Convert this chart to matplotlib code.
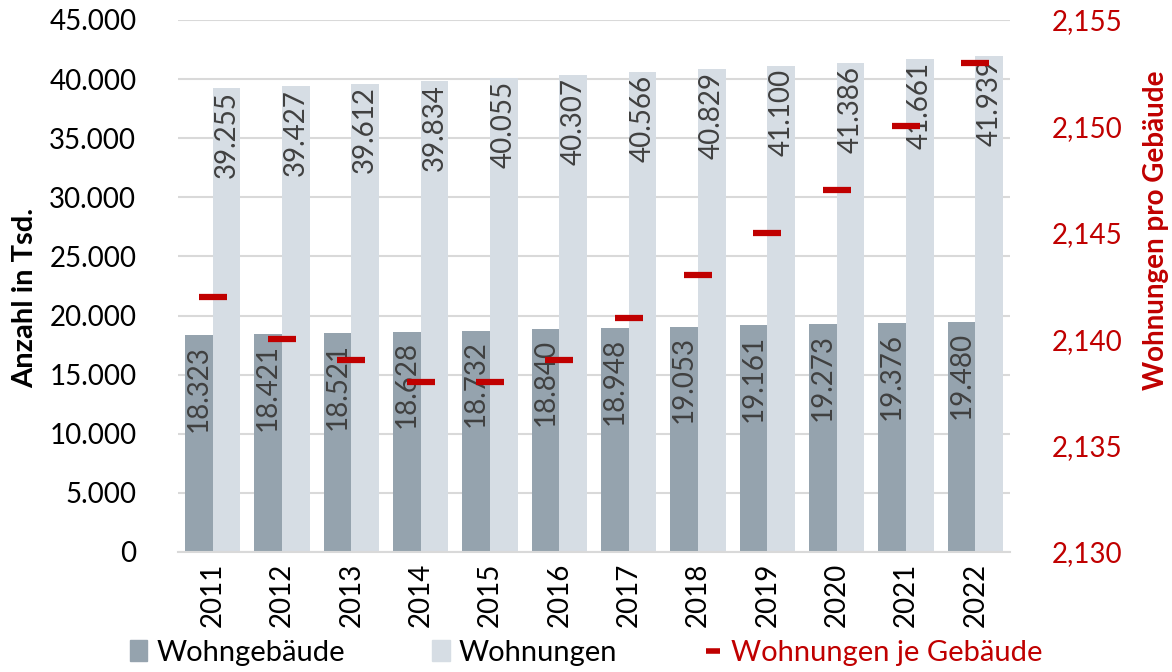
import matplotlib
matplotlib.use("Agg")
import matplotlib.pyplot as plt
from matplotlib.ticker import FuncFormatter, MultipleLocator
from matplotlib.patches import Patch
from matplotlib.lines import Line2D
import numpy as np

plt.rcParams['font.family'] = ['Lato', 'DejaVu Sans']

years = ["2011", "2012", "2013", "2014", "2015", "2016", "2017", "2018", "2019", "2020", "2021", "2022"]
wohngebaeude = [18323, 18421, 18521, 18628, 18732, 18840, 18948, 19053, 19161, 19273, 19376, 19480]
wohnungen = [39255, 39427, 39612, 39834, 40055, 40307, 40566, 40829, 41100, 41386, 41661, 41939]
je_gebaeude = [2.142, 2.140, 2.139, 2.138, 2.138, 2.139, 2.141, 2.143, 2.145, 2.147, 2.150, 2.153]

c_dark = "#95A3AE"
c_light = "#D6DDE4"
c_red = "#C00000"
c_text = "#404040"

fs = 20

fig = plt.figure(figsize=(11.72, 6.72), dpi=100)
ax = fig.add_axes([178/1172, 1-552/672, (1010-178)/1172, (552-20)/672])
ax2 = ax.twinx()

x = np.arange(len(years))
w = 0.4
ax.bar(x - w/2, wohngebaeude, width=w, color=c_dark, zorder=2)
ax.bar(x + w/2, wohnungen, width=w, color=c_light, zorder=2)

def de_fmt(v):
    return f"{int(round(v)):,}".replace(",", ".")

for xi, v in zip(x - w/2, wohngebaeude):
    ax.annotate(de_fmt(v), (xi, v), xytext=(0, -7), textcoords="offset points",
                rotation=90, ha="center", va="top", fontsize=fs, color=c_text, zorder=3)
for xi, v in zip(x + w/2, wohnungen):
    ax.annotate(de_fmt(v), (xi, v), xytext=(0, -2), textcoords="offset points",
                rotation=90, ha="center", va="top", fontsize=fs, color=c_text, zorder=3)

ax.set_xlim(-0.5, len(years) - 0.5)
ax.set_ylim(0, 45000)
ax.yaxis.set_major_locator(MultipleLocator(5000))
ax.yaxis.set_major_formatter(FuncFormatter(lambda v, p: de_fmt(v)))
ax.grid(axis="y", color="#D9D9D9", linewidth=1.5, zorder=0)
ax.set_axisbelow(True)
ax.set_xticks(x)
ax.set_xticklabels(years, rotation=90, fontsize=fs)
ax.tick_params(axis="both", length=0, labelsize=fs, colors="black")
ax.tick_params(axis="y", pad=30)
ax.tick_params(axis="x", pad=8)
for s in ax.spines.values():
    s.set_visible(False)
ax.spines["bottom"].set_visible(True)
ax.spines["bottom"].set_color("#D9D9D9")
ax.spines["bottom"].set_linewidth(1.5)
ax.set_ylabel("Anzahl in Tsd.", fontsize=21, fontweight="bold")
ax.yaxis.set_label_coords(-0.168, 0.477)

ax2.plot(x, je_gebaeude, linestyle="none", marker="_", markersize=19.5,
         markeredgewidth=4.5, color=c_red, zorder=4)
ax2.set_ylim(2.130, 2.155)
ax2.yaxis.set_major_locator(MultipleLocator(0.005))
ax2.yaxis.set_major_formatter(FuncFormatter(lambda v, p: f"{v:.3f}".replace(".", ",")))
ax2.tick_params(axis="y", length=0, labelsize=fs, colors=c_red, pad=30)
for s in ax2.spines.values():
    s.set_visible(False)
ax2.set_ylabel("Wohnungen pro Gebäude", fontsize=20, fontweight="bold", color=c_red)
ax2.yaxis.set_label_coords(1.16, 0.605)

handles = [Patch(color=c_dark), Patch(color=c_light),
           Line2D([0], [0], color=c_red, linestyle="none", marker="_",
                  markersize=10, markeredgewidth=4)]
labels = ["Wohngebäude", "Wohnungen", "Wohnungen je Gebäude"]
leg = fig.legend(handles, labels, loc="lower center", bbox_to_anchor=(0.5, -0.03), ncol=3,
                 frameon=False, fontsize=21, handlelength=0.6, handleheight=0.7,
                 handletextpad=0.3, columnspacing=3.0)
leg.get_texts()[2].set_color(c_red)

fig.savefig("out.png", dpi=100)
